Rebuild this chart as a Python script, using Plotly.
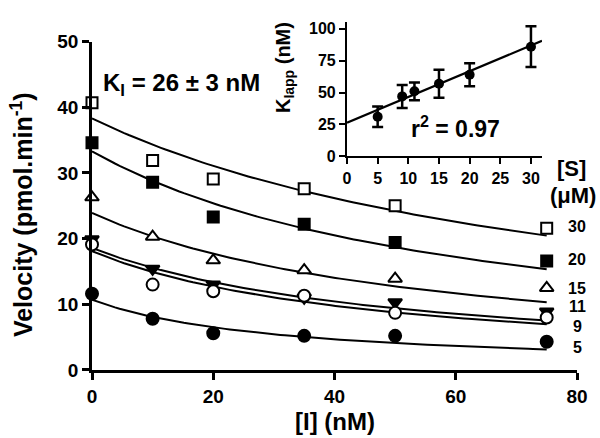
import numpy as np
import plotly.graph_objects as go

# ---------------- data ----------------
I_NM = [0, 10, 20, 35, 50, 75]
S_LABELS = ["30", "20", "15", "11", "9", "5"]
V_S30 = [40.7, 31.9, 29.1, 27.6, 25.0, 21.6]
V_S20 = [34.6, 28.6, 23.3, 22.2, 19.4, 16.6]
V_S15 = [26.3, 20.3, 16.7, 15.2, 13.9, 12.5]
V_S11 = [19.9, 15.4, 13.0, 11.0, 10.3, 8.9]
V_S9 = [19.1, 13.0, 12.0, 11.3, 8.7, 8.0]
V_S5 = [11.6, 7.8, 5.6, 5.2, 5.2, 4.3]
# fitted uninhibited velocities (I = 0)
V0_FIT = [38.3, 33.3, 23.9, 18.6, 18.1, 10.7]
# label heights for right-hand [S] labels
LABEL_Y = [21.9, 16.9, 12.4, 9.6, 6.6, 3.4]

# inset: apparent K_I vs [S]
S_UM = [5, 9, 11, 15, 20, 30]
K_APP = [31, 47, 51, 57, 64, 86]
K_ERR = [8, 9, 7, 11, 9, 16]
FIT_INTERCEPT = 26.4
FIT_SLOPE = 2.02

SERIES = [V_S30, V_S20, V_S15, V_S11, V_S9, V_S5]
K_APP_CURVE = [86, 64, 57, 51, 47, 31]  # matching order of SERIES
SYMBOLS = ["square", "square", "triangle-up", "triangle-down", "circle", "circle"]
FILLS = ["white", "black", "white", "black", "white", "black"]
SIZES = [11, 11, 12, 12, 12, 12]

FONT = "Liberation Sans, Arial, sans-serif"

# ---------------- layout helpers ----------------
W, H = 600, 438
L, R, T, B = 92, 23, 15, 68
PW, PH = W - L - R, H - T - B


def fx(px):
    return (px - L) / PW


def fy(py):
    return (H - B - py) / PH


fig = go.Figure()

# fitted curves (competitive inhibition)
I_line = np.linspace(0, 75, 100)
for v0, kapp in zip(V0_FIT, K_APP_CURVE):
    fig.add_trace(go.Scatter(x=I_line, y=v0 / (1 + I_line / kapp), mode="lines",
                             line=dict(color="black", width=2), xaxis="x", yaxis="y",
                             hoverinfo="skip"))

# data points
for vals, sym, fill, sz in zip(SERIES, SYMBOLS, FILLS, SIZES):
    fig.add_trace(go.Scatter(x=I_NM, y=vals, mode="markers", cliponaxis=False,
                             marker=dict(symbol=sym, size=sz, color=fill,
                                         line=dict(color="black", width=2)),
                             xaxis="x", yaxis="y"))

# inset
S_line = np.linspace(0, 31.8, 2)
fig.add_trace(go.Scatter(x=S_line, y=FIT_INTERCEPT + FIT_SLOPE * S_line, mode="lines",
                         line=dict(color="black", width=2.2), xaxis="x2", yaxis="y2"))
fig.add_trace(go.Scatter(x=S_UM, y=K_APP, mode="markers", cliponaxis=False,
                         marker=dict(symbol="circle", size=10, color="black"),
                         error_y=dict(type="data", array=K_ERR, visible=True,
                                      color="black", thickness=2.5, width=5.5),
                         xaxis="x2", yaxis="y2"))

axis_common = dict(showline=True, linecolor="black", ticks="outside", tickcolor="black",
                   showgrid=False, zeroline=False)

fig.update_layout(
    width=W, height=H,
    margin=dict(l=L, r=R, t=T, b=B),
    paper_bgcolor="white", plot_bgcolor="rgba(0,0,0,0)",
    showlegend=False,
    font=dict(family=FONT, color="black"),
    xaxis=dict(axis_common, domain=[0, 1], range=[0, 80], tickvals=[0, 20, 40, 60, 80],
               linewidth=2.5, tickwidth=2.5, ticklen=7, anchor="y",
               tickfont=dict(size=19, family=FONT, color="black", weight="bold")),
    yaxis=dict(axis_common, domain=[0, fy(35)], range=[0, 50], tickvals=[0, 10, 20, 30, 40, 50],
               linewidth=2.5, tickwidth=2.5, ticklen=7, anchor="x",
               tickfont=dict(size=19, family=FONT, color="black", weight="bold")),
    xaxis2=dict(axis_common, domain=[fx(347), fx(542)], range=[0, 31.8],
                tickvals=[0, 5, 10, 15, 20, 25, 30], anchor="y2",
                linewidth=2.2, tickwidth=2.2, ticklen=6,
                tickfont=dict(size=16, family=FONT, color="black", weight="bold")),
    yaxis2=dict(axis_common, domain=[fy(152), 1], range=[0, 105.4],
                tickvals=[0, 25, 50, 75, 100], anchor="x2",
                linewidth=2.2, tickwidth=2.2, ticklen=6,
                tickfont=dict(size=16, family=FONT, color="black", weight="bold")),
)

ann = []
# axis titles
ann.append(dict(text="<b>Velocity (pmol.min<sup>-1</sup>)</b>", x=fx(22), y=fy(212),
                xref="paper", yref="paper", textangle=-90, showarrow=False,
                font=dict(size=25, family=FONT), xanchor="center", yanchor="middle"))
ann.append(dict(text="<b>[I] (nM)</b>", x=fx(335), y=fy(423), xref="paper", yref="paper",
                showarrow=False, font=dict(size=24, family=FONT),
                xanchor="center", yanchor="middle"))
ann.append(dict(text="<b>K<sub>I</sub> = 26 ± 3 nM</b>", x=fx(101), y=fy(79),
                xref="paper", yref="paper", showarrow=False,
                font=dict(size=24, family=FONT), xanchor="left", yanchor="middle"))
# inset annotations
ann.append(dict(text="<b>K<sub>Iapp</sub> (nM)</b>", x=fx(284), y=fy(62), xref="paper",
                yref="paper", textangle=-90, showarrow=False,
                font=dict(size=20, family=FONT), xanchor="center", yanchor="middle"))
ann.append(dict(text="<b>r<sup>2</sup> = 0.97</b>", x=fx(455), y=fy(122), xref="paper",
                yref="paper", showarrow=False, font=dict(size=23, family=FONT),
                xanchor="center", yanchor="middle"))
ann.append(dict(text="<b>[S]</b>", x=fx(571), y=fy(164), xref="paper", yref="paper",
                showarrow=False, font=dict(size=22, family=FONT),
                xanchor="center", yanchor="middle"))
ann.append(dict(text="<b>(μM)</b>", x=fx(573), y=fy(192), xref="paper", yref="paper",
                showarrow=False, font=dict(size=22, family=FONT),
                xanchor="center", yanchor="middle"))
# [S] labels next to curves
for lab, ly in zip(S_LABELS, LABEL_Y):
    ann.append(dict(text=f"<b>{lab}</b>", x=80, y=ly, xref="x", yref="y", showarrow=False,
                    font=dict(size=16, family=FONT), xanchor="center", yanchor="middle"))

fig.update_layout(annotations=ann)

fig.write_html("out.html", config={"displayModeBar": False},
               post_script="document.body.style.margin='0';")
